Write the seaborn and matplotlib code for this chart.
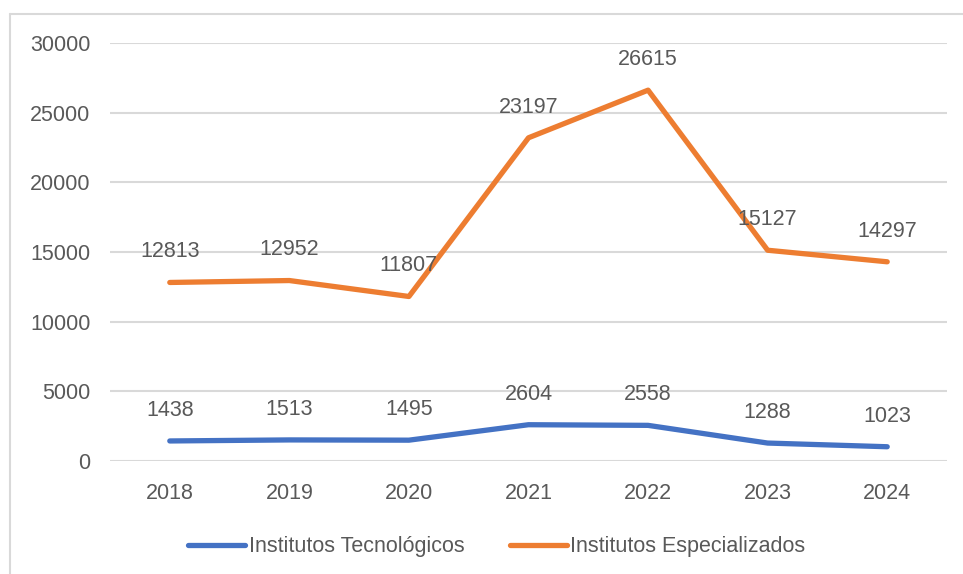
import pandas as pd
import matplotlib.pyplot as plt
import seaborn as sns
from matplotlib.lines import Line2D

# data
years = [2018, 2019, 2020, 2021, 2022, 2023, 2024]
tecnologicos = [1438, 1513, 1495, 2604, 2558, 1288, 1023]
especializados = [12813, 12952, 11807, 23197, 26615, 15127, 14297]
series_names = ['Institutos Tecnológicos', 'Institutos Especializados']
colors = ['#4472C4', '#ED7D31']

df = pd.DataFrame({
    'year': years * 2,
    'value': tecnologicos + especializados,
    'serie': [series_names[0]] * len(years) + [series_names[1]] * len(years),
})

sns.set_theme(style='white')
plt.rcParams['font.family'] = ['Liberation Sans', 'DejaVu Sans']
text_color = '#595959'
fs = 15.5

fig = plt.figure(figsize=(9.63, 5.74), dpi=100)
ax = fig.add_axes([110 / 963, 1 - 461 / 574, 837 / 963, 418 / 574])

sns.lineplot(data=df, x='year', y='value', hue='serie', palette=colors,
             hue_order=series_names, linewidth=3.8, ax=ax,
             solid_capstyle='round', solid_joinstyle='round', zorder=3)

# data labels above each point
for vals in [tecnologicos, especializados]:
    for x, y in zip(years, vals):
        ax.annotate(str(y), (x, y), xytext=(0, 22), textcoords='offset points',
                    ha='center', va='center', fontsize=fs, color=text_color)

ax.set_xlim(2017.5, 2024.5)
ax.set_ylim(0, 30000)
ax.set_yticks(range(0, 30001, 5000))
ax.set_xticks(years)
ax.set_xticklabels([str(y) for y in years])
ax.grid(axis='y', color='#d9d9d9', linewidth=1.5)
ax.set_axisbelow(True)
for s in ax.spines.values():
    s.set_visible(False)
ax.tick_params(axis='y', length=0, pad=14, labelsize=fs, labelcolor=text_color)
ax.tick_params(axis='x', length=0, pad=16, labelsize=fs, labelcolor=text_color)
ax.set_xlabel('')
ax.set_ylabel('')

handles = [Line2D([], [], color=c, linewidth=3.8, solid_capstyle='round') for c in colors]
ax.legend(handles, series_names, loc='center', bbox_to_anchor=(0.462, -0.205),
          ncol=2, frameon=False, fontsize=fs, labelcolor=text_color,
          handlelength=2.65, handletextpad=0.15, columnspacing=2.1)

# light chart border (left and top visible)
fig.add_artist(Line2D([10 / 963, 10 / 963], [0, 1 - 14 / 574], color='#d9d9d9', linewidth=1.5))
fig.add_artist(Line2D([10 / 963, 1], [1 - 14 / 574, 1 - 14 / 574], color='#d9d9d9', linewidth=1.5))

plt.savefig('out.png', dpi=100)
